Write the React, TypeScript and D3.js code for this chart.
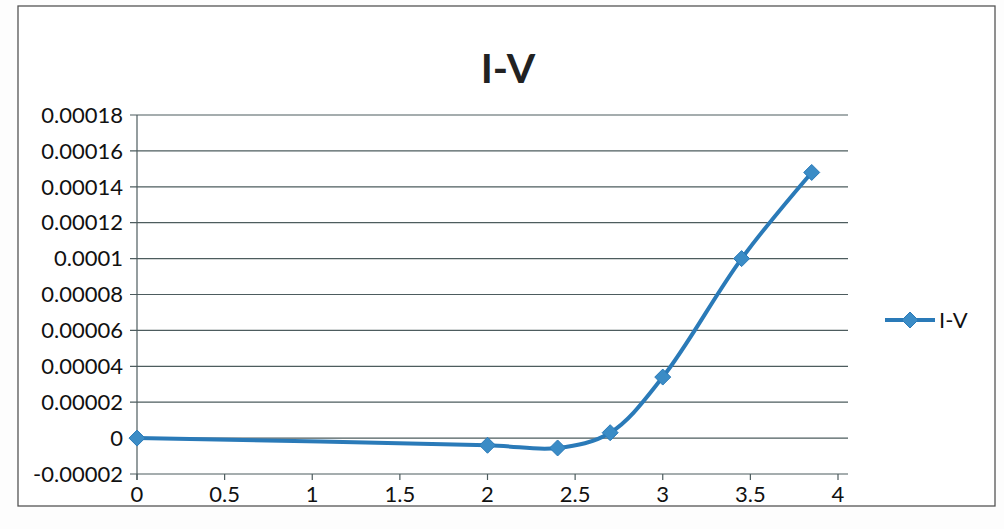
import React from "react";
import * as d3 from "d3";

const voltages = [0, 2, 2.4, 2.7, 3.0, 3.45, 3.85];
const currents = [0, -0.000004, -0.0000055, 0.000003, 0.000034, 0.0001, 0.000148];
const yTicks = [-0.00002, 0, 0.00002, 0.00004, 0.00006, 0.00008, 0.0001, 0.00012, 0.00014, 0.00016, 0.00018];
const yTickLabels = ["-0.00002", "0", "0.00002", "0.00004", "0.00006", "0.00008", "0.0001", "0.00012", "0.00014", "0.00016", "0.00018"];
const xTicks = [0, 0.5, 1, 1.5, 2, 2.5, 3, 3.5, 4];
const xTickLabels = ["0", "0.5", "1", "1.5", "2", "2.5", "3", "3.5", "4"];
const seriesName = "I-V";
const title = "I-V";

const W = 1004;
const H = 529;
const FONT = "Lato, 'Open Sans', sans-serif";
const LINE = "#2a7ab8";
const GRID = "#4d5c5e";

export default function App() {
  const x = d3.scaleLinear().domain([0, 4]).range([137, 838]);
  const y = d3.scaleLinear().domain([-0.00002, 0.00018]).range([474, 115]);
  const pts: [number, number][] = voltages.map((v, i) => [x(v), y(currents[i])]);
  const line = d3.line().curve(d3.curveCatmullRom.alpha(0.5))(pts) || "";
  const diamond = (cx: number, cy: number, r: number) =>
    `M${cx},${cy - r}L${cx + r},${cy}L${cx},${cy + r}L${cx - r},${cy}Z`;
  const x0 = x(0);
  const x1 = 848;
  return (
    <svg width={W} height={H} style={{ position: "absolute", left: 0, top: 0, background: "#fff" }}>
      <rect x={0} y={0} width={W} height={H} fill="#fdfdfd" />
      <rect x={18} y={6} width={977} height={500} fill="#fff" stroke="#555" strokeWidth={1.3} />
      <text x={508} y={83} textAnchor="middle" fontFamily={FONT} fontWeight="bold" fontSize={41} fill="#222">
        {title}
      </text>
      {yTicks.map((t, i) => (
        <g key={"y" + i}>
          <line x1={x0 - 7} x2={x1} y1={y(t)} y2={y(t)} stroke={GRID} strokeWidth={1.2} />
          <text x={x0 - 14} y={y(t)} dy="0.35em" textAnchor="end" fontFamily={FONT} fontSize={22} fill="#111">
            {yTickLabels[i]}
          </text>
        </g>
      ))}
      <line x1={x0} x2={x0} y1={y(0.00018)} y2={y(-0.00002) + 6} stroke={GRID} strokeWidth={1.2} />
      {xTicks.map((t, i) => (
        <g key={"x" + i}>
          <line x1={x(t)} x2={x(t)} y1={y(-0.00002)} y2={y(-0.00002) + 6} stroke={GRID} strokeWidth={1.2} />
          <text x={x(t)} y={y(-0.00002) + 12} dy="0.71em" textAnchor="middle" fontFamily={FONT} fontSize={22} fill="#111">
            {xTickLabels[i]}
          </text>
        </g>
      ))}
      <path d={line} fill="none" stroke={LINE} strokeWidth={4} />
      {pts.map((p, i) => (
        <path key={"m" + i} d={diamond(p[0], p[1], 8)} fill="#3b8cc6" stroke={LINE} strokeWidth={1} />
      ))}
      <line x1={885} x2={935} y1={320} y2={320} stroke={LINE} strokeWidth={4} />
      <path d={diamond(910, 320, 8)} fill="#3b8cc6" stroke={LINE} strokeWidth={1} />
      <text x={939} y={320} dy="0.35em" fontFamily={FONT} fontSize={22} fill="#111">
        {seriesName}
      </text>
    </svg>
  );
}
